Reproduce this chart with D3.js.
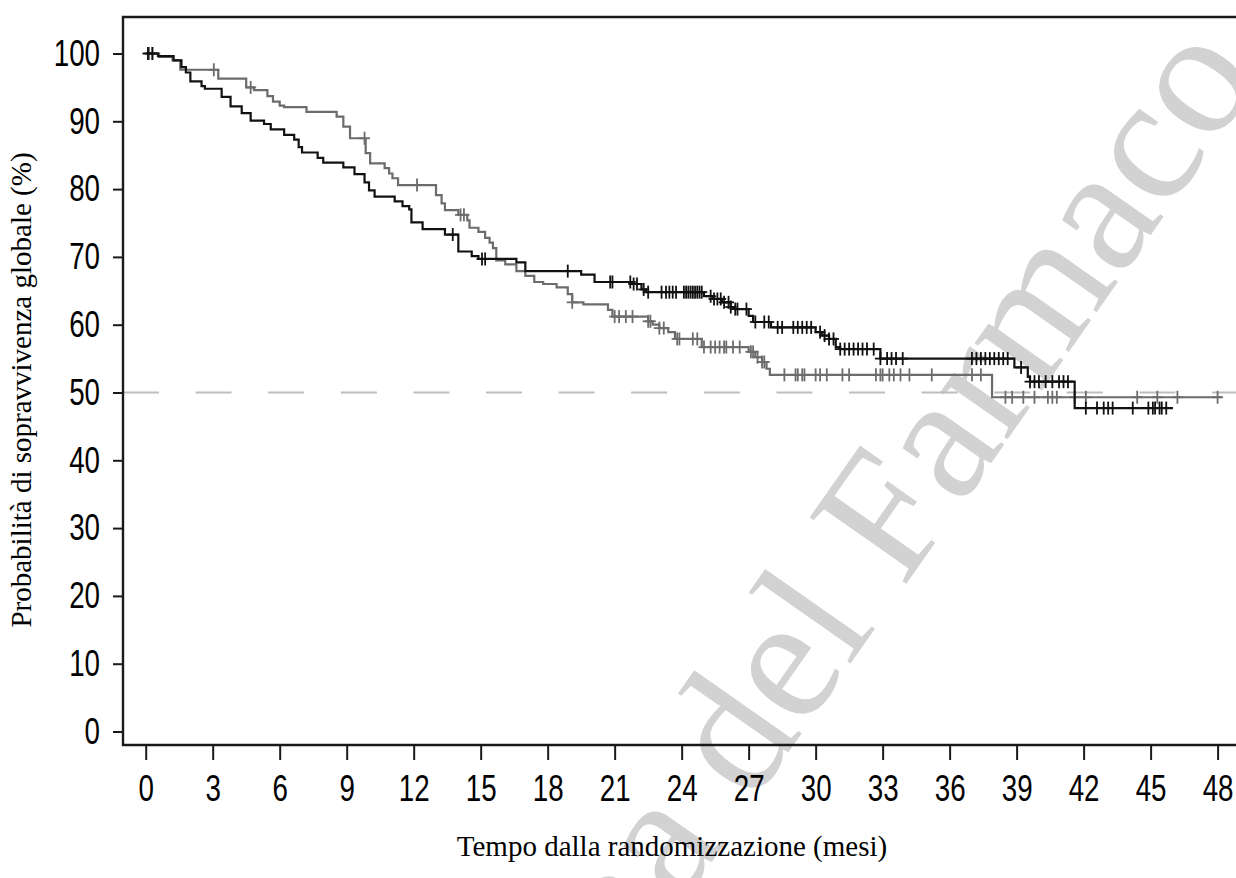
<!DOCTYPE html>
<html><head><meta charset="utf-8">
<script src="https://cdn.jsdelivr.net/npm/d3@7"></script>
<style>
html,body{margin:0;padding:0;background:#fff;}
svg{display:block;}
</style></head>
<body>
<svg id="chart" width="1236" height="878"></svg>
<script>
// ---------- DATA ----------
const xTicks = [0,3,6,9,12,15,18,21,24,27,30,33,36,39,42,45,48];
const yTicks = [0,10,20,30,40,50,60,70,80,90,100];
const xTitle = "Tempo dalla randomizzazione (mesi)";
const yTitle = "Probabilità di sopravvivenza globale (%)";
const watermark = "Agenzia Italiana del Farmaco";
const referenceLevel = 50;

// Black curve: step times (months) and survival (%)
const blackTimes = [0,0.55,1.25,1.6,1.8,2.0,2.5,2.65,3.4,3.8,4.3,4.7,5.3,5.6,6.2,6.65,6.85,7.0,7.7,7.95,8.85,9.35,9.8,10.0,10.25,11.15,11.5,11.8,11.9,12.4,13.4,14.0,14.6,14.9,16.6,17.0,19.5,20.1,21.8,22.2,22.4,25.0,25.4,25.8,26.2,26.4,27.0,27.2,28.0,30.0,30.3,30.6,30.9,31.1,32.9,38.9,39.5,39.6,41.6];
const blackSurv  = [100,99.6,99.0,98.0,97.2,95.9,95.2,94.8,93.6,92.2,91.2,90.1,89.6,88.8,88.0,87.3,86.2,85.4,84.6,83.9,83.2,82.2,81.0,79.8,78.9,78.2,77.5,77.0,75.1,74.1,73.3,70.8,70.1,69.7,69.2,67.9,67.4,66.3,66.0,65.2,64.8,64.2,63.8,63.3,62.6,62.3,61.3,60.4,59.6,58.9,58.4,57.9,56.7,56.4,55.0,53.7,52.3,51.6,47.7];
const blackEnd = 46.0;
const blackCensor = [0.1,0.3,13.75,15.06,15.2,18.9,20.8,20.9,21.7,21.85,22.0,22.3,22.5,23.1,23.3,23.45,23.6,23.75,24.1,24.2,24.3,24.4,24.5,24.6,24.7,24.8,24.9,25.3,25.45,25.6,25.75,25.9,26.1,26.2,26.4,26.5,26.9,27.3,27.7,27.9,28.3,28.5,29.0,29.2,29.4,29.6,29.8,30.2,30.4,30.6,30.8,31.1,31.3,31.5,31.7,31.9,32.1,32.3,32.6,32.9,33.2,33.4,33.6,33.9,37.0,37.2,37.4,37.6,37.8,38.0,38.2,38.4,38.6,39.2,39.6,39.8,40.0,40.3,40.6,40.9,41.1,41.3,42.1,42.6,42.9,43.1,43.3,44.2,44.9,45.1,45.2,45.4,45.5,45.7];

// Gray curve
const grayTimes = [0,0.6,1.2,1.55,3.25,4.5,4.85,5.45,5.7,6.0,6.2,7.2,8.55,8.85,9.15,9.85,10.05,10.7,10.9,11.05,11.3,13.0,13.25,13.4,14.0,14.4,14.5,14.9,15.2,15.4,15.55,15.7,16.1,16.6,17.0,17.4,17.8,18.4,18.9,19.1,19.6,20.7,20.9,22.5,22.7,23.0,23.4,23.7,24.9,27.0,27.3,27.6,27.8,27.95,37.9];
const graySurv  = [100,99.5,99.0,97.6,96.3,95.0,94.6,93.7,92.9,92.3,92.1,91.4,90.7,89.2,87.5,85.3,83.8,83.1,82.3,81.6,80.6,79.1,77.9,76.9,76.2,75.4,74.3,73.7,72.8,72.1,71.3,69.5,68.9,67.9,67.2,66.3,66.0,65.5,64.5,63.3,63.0,62.2,61.2,60.5,60.0,59.5,58.9,57.9,56.7,56.0,55.2,54.5,53.5,52.6,49.3];
const grayEnd = 48.2;
const grayCensor = [0.15,0.3,3.05,4.7,9.8,12.15,14.1,14.25,19.1,21.0,21.2,21.5,21.8,22.5,22.6,23.0,23.2,23.8,23.9,24.5,24.7,25.0,25.3,25.5,25.7,25.9,26.0,26.3,26.6,27.1,27.2,27.4,27.6,27.7,28.6,29.1,29.2,29.4,29.5,30.0,30.2,30.5,31.2,31.5,32.7,32.9,33.0,33.3,33.5,33.8,34.2,35.2,37.0,37.4,38.5,38.8,39.3,39.8,40.4,40.6,40.8,41.6,42.1,44.4,45.3,46.2,48.0];

// ---------- CHART ----------
const svg = d3.select("#chart");
const W = 1236, H = 878;
const frame = {left:123, top:17, bottom:745, right:1240};
const x = d3.scaleLinear().domain([0,48]).range([145.7,1217.6]);
const y = d3.scaleLinear().domain([0,100]).range([731.5,53.5]);

const tickFont = "'Liberation Sans',Arial,sans-serif";
const narrow = 0.75;
const serif = "'Liberation Serif','Times New Roman',serif";

// watermark (under the chart)
svg.append("text")
  .attr("transform","translate(1262,76) rotate(-55)")
  .attr("text-anchor","end")
  .attr("font-family",serif)
  .attr("font-size",179)
  .attr("fill","#d2d2d2")
  .text(watermark);

// reference line at 50%
svg.append("line")
  .attr("x1",frame.left).attr("x2",W)
  .attr("y1",y(referenceLevel)).attr("y2",y(referenceLevel))
  .attr("stroke","#bdbdbd").attr("stroke-width",2)
  .attr("stroke-dasharray","36,36.6");

function stepVal(times, surv, t){
  let v = surv[0];
  for(let i=0;i<times.length;i++){ if(times[i]<=t) v=surv[i]; else break; }
  return v;
}
function drawCurve(times, surv, end, censor, color){
  const pts = times.map((t,i)=>[t,surv[i]]);
  pts.push([end, surv[surv.length-1]]);
  const line = d3.line().x(d=>x(d[0])).y(d=>y(d[1])).curve(d3.curveStepAfter);
  svg.append("path").datum(pts)
    .attr("d",line).attr("fill","none")
    .attr("stroke",color).attr("stroke-width",2.2);
  const g = svg.append("g").attr("stroke",color).attr("stroke-width",1.8);
  censor.forEach(t=>{
    const cx = x(t), cy = y(stepVal(times,surv,t));
    g.append("line").attr("x1",cx).attr("x2",cx).attr("y1",cy-6.5).attr("y2",cy+6.5);
    g.append("line").attr("x1",cx-5.5).attr("x2",cx+5.5).attr("y1",cy).attr("y2",cy);
  });
}
drawCurve(grayTimes, graySurv, grayEnd, grayCensor, "#6c6c6c");
drawCurve(blackTimes, blackSurv, blackEnd, blackCensor, "#111111");

// frame
svg.append("path")
  .attr("d",`M${frame.right},${frame.top}H${frame.left}V${frame.bottom}H${frame.right}`)
  .attr("fill","none").attr("stroke","#1a1a1a").attr("stroke-width",2.4);

// axes
const yAxis = d3.axisLeft(y).tickValues(yTicks).tickSize(10).tickPadding(13).tickSizeOuter(0);
const gy = svg.append("g").attr("transform",`translate(${frame.left},0)`).call(yAxis);
gy.select(".domain").remove();
gy.selectAll("line").attr("stroke","#1a1a1a").attr("stroke-width",2);
gy.selectAll("text").attr("font-family",tickFont).attr("font-size",37).attr("fill","#000")
  .attr("x",-23/narrow).attr("transform",`scale(${narrow},1)`);

const xAxis = d3.axisBottom(x).tickValues(xTicks).tickSize(15).tickPadding(15).tickSizeOuter(0);
const gx = svg.append("g").attr("transform",`translate(0,${frame.bottom})`).call(xAxis);
gx.select(".domain").remove();
gx.selectAll("line").attr("stroke","#1a1a1a").attr("stroke-width",2);
gx.selectAll("text").attr("font-family",tickFont).attr("font-size",37).attr("fill","#000")
  .attr("transform",`scale(${narrow},1)`);

// titles
svg.append("text")
  .attr("x",672).attr("y",856)
  .attr("text-anchor","middle")
  .attr("font-family",serif).attr("font-size",29)
  .text(xTitle);
svg.append("text")
  .attr("transform","translate(31,390) rotate(-90)")
  .attr("text-anchor","middle")
  .attr("font-family",serif).attr("font-size",29)
  .text(yTitle);
</script>
</body></html>
